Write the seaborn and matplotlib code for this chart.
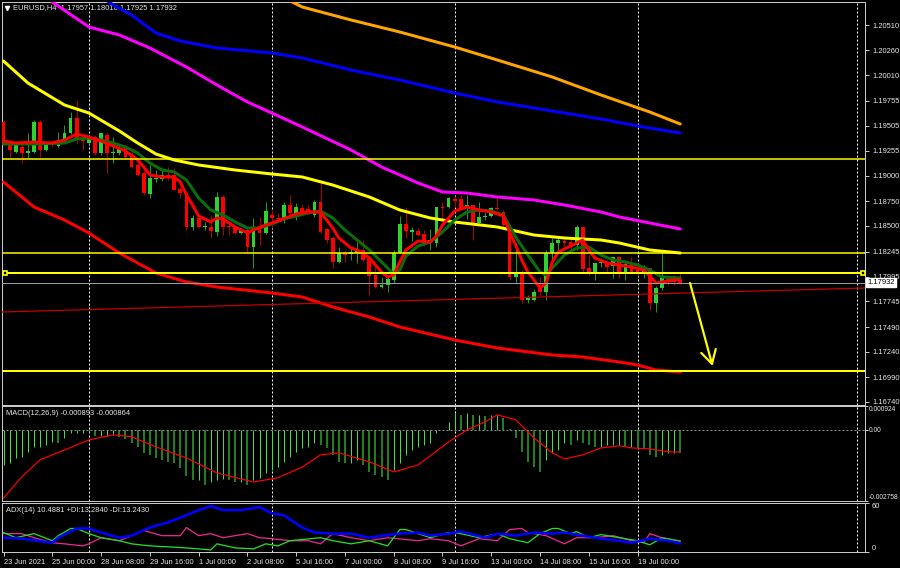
import numpy as np
import pandas as pd
import matplotlib
matplotlib.use("Agg")
import matplotlib.pyplot as plt
import seaborn as sns

# ---------------- data (EURUSD H4) ----------------
open_ = [1.1954, 1.1933, 1.1924, 1.1929, 1.1923, 1.1924, 1.1954, 1.1926, 1.1934, 1.1930,
         1.1936, 1.1943, 1.1958, 1.1937, 1.1933, 1.1939, 1.1923, 1.1941, 1.1923, 1.1923,
         1.1929, 1.1921, 1.1911, 1.1903, 1.1882, 1.1897, 1.1897, 1.1901, 1.1901, 1.1887,
         1.1883, 1.1849, 1.1858, 1.1849, 1.1849, 1.1844, 1.1879, 1.1850, 1.1849, 1.1843,
         1.1846, 1.1829, 1.1848, 1.1843, 1.1861, 1.1858, 1.1858, 1.1871, 1.1863, 1.1868,
         1.1867, 1.1861, 1.1874, 1.1847, 1.1838, 1.1814, 1.1823, 1.1822, 1.1823, 1.1826,
         1.1817, 1.1801, 1.1789, 1.1791, 1.1796, 1.1823, 1.1852, 1.1844, 1.1845, 1.1842,
         1.1834, 1.1833, 1.1869, 1.1869, 1.1877, 1.1877, 1.1869, 1.1871, 1.1853, 1.1859,
         1.1860, 1.1868, 1.1864, 1.1851, 1.1799, 1.1804, 1.1776, 1.1776, 1.1788, 1.1784,
         1.1823, 1.1833, 1.1835, 1.1834, 1.1831, 1.1849, 1.1808, 1.1802, 1.1813, 1.1813,
         1.1810, 1.1819, 1.1803, 1.1811, 1.1808, 1.1803, 1.1808, 1.1773, 1.1788, 1.1797,
         1.1798, 1.17957]
high_ = [1.1956, 1.1936, 1.1933, 1.1931, 1.1943, 1.1956, 1.1956, 1.1934, 1.1936, 1.1944,
         1.1951, 1.1964, 1.1976, 1.1939, 1.1938, 1.1941, 1.1943, 1.1943, 1.1939, 1.1931,
         1.1931, 1.1924, 1.1913, 1.1906, 1.1911, 1.1906, 1.1907, 1.1909, 1.1908, 1.1889,
         1.1885, 1.1861, 1.1861, 1.1854, 1.1861, 1.1884, 1.1881, 1.1854, 1.1851, 1.1848,
         1.1848, 1.1858, 1.1859, 1.1874, 1.1866, 1.1863, 1.1874, 1.1881, 1.1873, 1.1871,
         1.1871, 1.1876, 1.1895, 1.1848, 1.1840, 1.1829, 1.1826, 1.1828, 1.1834, 1.1836,
         1.1817, 1.1811, 1.1799, 1.1799, 1.1826, 1.1860, 1.1869, 1.1849, 1.1848, 1.1846,
         1.1847, 1.1869, 1.1874, 1.1879, 1.1880, 1.1881, 1.1881, 1.1871, 1.1874, 1.1864,
         1.1869, 1.1878, 1.1866, 1.1851, 1.1833, 1.1806, 1.1781, 1.1787, 1.1799, 1.1826,
         1.1838, 1.1839, 1.1839, 1.1837, 1.1851, 1.1849, 1.1821, 1.1813, 1.1818, 1.1816,
         1.1819, 1.1819, 1.1814, 1.1819, 1.1811, 1.1811, 1.1808, 1.1790, 1.1824, 1.1801,
         1.1801, 1.18018]
low_ = [1.1931, 1.1919, 1.1923, 1.1913, 1.1918, 1.1923, 1.1919, 1.1925, 1.1929, 1.1929,
        1.1935, 1.1942, 1.1933, 1.1926, 1.1932, 1.1921, 1.1921, 1.1903, 1.1913, 1.1921,
        1.1918, 1.1908, 1.1900, 1.1881, 1.1878, 1.1894, 1.1895, 1.1896, 1.1886, 1.1878,
        1.1846, 1.1846, 1.1848, 1.1846, 1.1838, 1.1840, 1.1841, 1.1841, 1.1842, 1.1842,
        1.1823, 1.1808, 1.1831, 1.1842, 1.1848, 1.1854, 1.1853, 1.1861, 1.1856, 1.1861,
        1.1862, 1.1859, 1.1843, 1.1833, 1.1808, 1.1813, 1.1814, 1.1816, 1.1813, 1.1814,
        1.1781, 1.1788, 1.1788, 1.1784, 1.1793, 1.1823, 1.1838, 1.1835, 1.1840, 1.1830,
        1.1826, 1.1829, 1.1856, 1.1868, 1.1869, 1.1866, 1.1857, 1.1836, 1.1853, 1.1856,
        1.1859, 1.1866, 1.1849, 1.1796, 1.1793, 1.1773, 1.1773, 1.1775, 1.1781, 1.1776,
        1.1814, 1.1826, 1.1829, 1.1826, 1.1826, 1.1804, 1.1801, 1.1796, 1.1809, 1.1803,
        1.1798, 1.1798, 1.1796, 1.1803, 1.1800, 1.1798, 1.1766, 1.1764, 1.1786, 1.1791,
        1.1791, 1.17925]
close_ = [1.1933, 1.1926, 1.1931, 1.1923, 1.1925, 1.1954, 1.1926, 1.1931, 1.1932, 1.1936,
          1.1943, 1.1958, 1.1938, 1.1935, 1.1937, 1.1923, 1.1943, 1.1923, 1.1924, 1.1927,
          1.1919, 1.1909, 1.1901, 1.1883, 1.1898, 1.1898, 1.1901, 1.1899, 1.1886, 1.1883,
          1.1849, 1.1858, 1.1849, 1.1850, 1.1845, 1.1879, 1.1849, 1.1849, 1.1843, 1.1846,
          1.1829, 1.1848, 1.1843, 1.1865, 1.1858, 1.1857, 1.1871, 1.1863, 1.1869, 1.1863,
          1.1863, 1.1874, 1.1844, 1.1836, 1.1814, 1.1823, 1.1821, 1.1824, 1.1826, 1.1816,
          1.1800, 1.1789, 1.1791, 1.1797, 1.1823, 1.1852, 1.1845, 1.1846, 1.1841, 1.1833,
          1.1836, 1.1869, 1.1868, 1.1878, 1.1875, 1.1868, 1.1871, 1.1853, 1.1859, 1.1860,
          1.1868, 1.1867, 1.1851, 1.1799, 1.1804, 1.1776, 1.1778, 1.1784, 1.1784, 1.1823,
          1.1833, 1.1836, 1.1833, 1.1831, 1.1849, 1.1807, 1.1803, 1.1813, 1.1814, 1.1809,
          1.1819, 1.1803, 1.1812, 1.1804, 1.1803, 1.1807, 1.1773, 1.1788, 1.1799, 1.1794,
          1.1794, 1.17932]

# moving averages, sampled at bar indices
fast_red_bars = [0, 2, 5, 8, 10, 12, 14, 16, 18, 20, 22, 23, 24, 26, 28, 29, 30, 31, 32, 34,
                 35, 36, 38, 40, 41, 43, 45, 48, 50, 52, 53, 54, 55, 57, 58, 60, 62, 63, 64, 65,
                 66, 68, 70, 71, 72, 74, 76, 78, 80, 82, 83, 84, 85, 86, 88, 89, 90, 91, 93, 95,
                 96, 97, 99, 101, 103, 105, 106, 107, 108, 110, 111]
fast_red = [1.1935, 1.1933, 1.1934, 1.1933, 1.1936, 1.1942, 1.1939, 1.1935, 1.1930, 1.1925,
            1.1916, 1.1909, 1.1901, 1.1899, 1.1899, 1.1894, 1.1881, 1.1871, 1.1860, 1.1854,
            1.1858, 1.1857, 1.1849, 1.1843, 1.1846, 1.1851, 1.1855, 1.1862, 1.1864, 1.1864,
            1.1856, 1.1848, 1.1838, 1.1828, 1.1826, 1.1818, 1.1804, 1.1799, 1.1801, 1.1814,
            1.1826, 1.1835, 1.1834, 1.1840, 1.1851, 1.1865, 1.1869, 1.1866, 1.1864, 1.1860,
            1.1844, 1.1831, 1.1816, 1.1804, 1.1788, 1.1793, 1.1814, 1.1824, 1.1830, 1.1836,
            1.1826, 1.1818, 1.1813, 1.1811, 1.1809, 1.1806, 1.1800, 1.1793, 1.1794, 1.1796,
            1.1796]
fast_green_bars = [0, 5, 10, 12, 14, 16, 18, 20, 22, 24, 26, 28, 30, 32, 34, 36, 38, 40, 42, 44,
                   46, 48, 50, 52, 54, 56, 58, 60, 62, 64, 65, 66, 68, 70, 72, 74, 76, 78, 80, 82,
                   84, 86, 88, 89, 90, 92, 94, 96, 98, 100, 102, 104, 106, 108, 111]
fast_green = [1.1932, 1.1932, 1.1933, 1.1937, 1.1938, 1.1936, 1.1933, 1.1929, 1.1923, 1.1913,
              1.1906, 1.1904, 1.1896, 1.1878, 1.1866, 1.1861, 1.1854, 1.1848, 1.1848, 1.1852,
              1.1857, 1.1860, 1.1863, 1.1865, 1.1858, 1.1846, 1.1836, 1.1826, 1.1814, 1.1802,
              1.1806, 1.1820, 1.1830, 1.1834, 1.1844, 1.1856, 1.1864, 1.1866, 1.1865, 1.1861,
              1.1839, 1.1821, 1.1804, 1.1801, 1.1808, 1.1821, 1.1828, 1.1829, 1.1821, 1.1816,
              1.1814, 1.1811, 1.1806, 1.1799, 1.1798]
yellow_ma_bars = [0, 4, 10, 14, 19, 22, 25, 28, 32, 38, 44, 49, 54, 60, 65, 70, 74, 81, 87, 92,
                  98, 101, 106, 111]
yellow_ma = [1.2015, 1.1993, 1.1971, 1.1963, 1.1945, 1.1933, 1.1922, 1.1916, 1.1911, 1.1906,
             1.1902, 1.1899, 1.1891, 1.1879, 1.1866, 1.1858, 1.1854, 1.1849, 1.1841, 1.1838,
             1.1836, 1.1833, 1.1826, 1.1823]
magenta_ma_bars = [0, 8, 14, 19, 24, 30, 35, 40, 44, 49, 57, 62, 68, 72, 76, 81, 87, 92, 98, 101,
                   106, 111]
magenta_ma = [1.2109, 1.2074, 1.2049, 1.2041, 1.2028, 1.2009, 1.1991, 1.1974, 1.1963, 1.1949,
              1.1926, 1.1909, 1.1893, 1.1884, 1.1883, 1.1879, 1.1876, 1.1871, 1.1864, 1.1859,
              1.1853, 1.1847]
blue_ma_bars = [12, 18, 21, 25, 29, 35, 44, 49, 57, 65, 74, 81, 89, 98, 104, 111]
blue_ma = [1.2096, 1.2071, 1.2061, 1.2043, 1.2035, 1.2028, 1.2023, 1.2018, 1.2006, 1.1996,
           1.1983, 1.1974, 1.1966, 1.1957, 1.1950, 1.1943]
orange_ma_bars = [40, 47, 49, 57, 65, 74, 81, 90, 98, 106, 111]
orange_ma = [1.2087, 1.2075, 1.2069, 1.2056, 1.2044, 1.2029, 1.2016, 1.1999, 1.1981, 1.1964,
             1.1952]
slow_red_bars = [0, 5, 10, 14, 19, 25, 30, 35, 44, 49, 54, 60, 65, 74, 81, 90, 95, 101, 104,
                 107, 111]
slow_red = [1.1894, 1.1869, 1.1856, 1.1843, 1.1823, 1.1803, 1.1794, 1.1789, 1.1783, 1.1779,
            1.1769, 1.1759, 1.1749, 1.1736, 1.1728, 1.1721, 1.1719, 1.1714, 1.1711, 1.1706,
            1.1704]

# drawn objects
thin_levels = [1.1917, 1.1823]
thick_levels = [1.1803, 1.1705]
bid_price = 1.17932
level_anchor_bars = [0.2, 141.0]
trend_bars = [-0.25, 141.3]
trend_prices = [1.1764, 1.1788]
arrow_from = (112.6, 1.1793)
arrow_to = (116.3, 1.1710)
grid_bars = [14, 44, 74, 104, 140]

# MACD(12,26,9)
macd_hist = [-0.00136, -0.00128, -0.00109, -0.00105, -0.00085, -0.00066, -0.00066, -0.00058, -0.00047, -0.00050,
             -0.00031, -0.00012, -0.00012, -0.00012, -0.00008, -0.00023, -0.00023, -0.00023, -0.00019, -0.00027,
             -0.00035, -0.00050, -0.00066, -0.00089, -0.00097, -0.00109, -0.00116, -0.00124, -0.00128, -0.00147,
             -0.00178, -0.00194, -0.00194, -0.00213, -0.00202, -0.00194, -0.00190, -0.00194, -0.00202, -0.00202,
             -0.00213, -0.00194, -0.00186, -0.00167, -0.00155, -0.00144, -0.00124, -0.00105, -0.00085, -0.00070,
             -0.00066, -0.00050, -0.00058, -0.00070, -0.00097, -0.00124, -0.00128, -0.00128, -0.00116, -0.00136,
             -0.00163, -0.00175, -0.00182, -0.00194, -0.00155, -0.00128, -0.00097, -0.00078, -0.00066, -0.00058,
             -0.00050, -0.00012, -0.00002, 0.00031, 0.00066, 0.00058, 0.00066, 0.00058, 0.00058, 0.00054,
             0.00058, 0.00058, 0.00047, 0.00002, -0.00031, -0.00085, -0.00124, -0.00144, -0.00163, -0.00116,
             -0.00089, -0.00078, -0.00050, -0.00058, -0.00039, -0.00050, -0.00058, -0.00066, -0.00066, -0.00058,
             -0.00058, -0.00058, -0.00066, -0.00066, -0.00070, -0.00074, -0.00097, -0.00105, -0.00097, -0.00089,
             -0.00089, -0.000893]
signal_bars = [0, 3, 6, 10, 14, 18, 21, 25, 30, 35, 41, 45, 49, 52, 55, 60, 64, 68, 73, 76,
               79, 81, 84, 87, 90, 92, 95, 98, 101, 103, 106, 109, 111]
signal = [-0.00264, -0.00182, -0.00116, -0.00078, -0.00039, -0.00019, -0.00027, -0.00066, -0.00109, -0.00167,
          -0.00202, -0.00186, -0.00144, -0.00097, -0.00089, -0.00124, -0.00163, -0.00136, -0.00047, 0.0,
          0.00031, 0.00058, 0.00039, -0.00031, -0.00089, -0.00113, -0.00097, -0.00070, -0.00062, -0.00070,
          -0.00074, -0.00085, -0.000864]

# ADX(14)
adx_bars = [0, 3, 8, 9, 12, 14, 16, 19, 21, 24, 27, 30, 32, 34, 36, 39, 42, 44, 46, 49,
            51, 54, 57, 60, 62, 65, 68, 70, 73, 75, 79, 81, 84, 87, 90, 92, 95, 98, 101, 103,
            106, 109, 111]
adx = [17.5, 16.3, 11.3, 17.5, 28.8, 28.8, 23.8, 17.5, 20.0, 30.0, 36.3, 45.0, 51.3, 56.3, 51.3,
       51.3, 55.0, 47.5, 45.0, 30.0, 23.8, 22.5, 22.5, 17.5, 20.0, 22.5, 23.8, 20.0, 22.5, 25.0,
       17.5, 22.5, 20.0, 23.8, 22.5, 23.8, 20.0, 16.3, 13.8, 11.3, 16.3, 13.8, 10.49]
plus_di_bars = [0, 2, 5, 8, 9, 11, 12, 14, 16, 19, 21, 24, 27, 30, 32, 34, 35, 38, 41, 43,
                45, 47, 52, 54, 57, 60, 63, 65, 66, 68, 70, 73, 75, 78, 81, 83, 86, 88, 90, 91,
                93, 94, 96, 98, 101, 104, 106, 108, 111]
plus_di = [23.8, 17.5, 22.5, 13.8, 20.0, 28.8, 28.8, 22.5, 17.5, 13.8, 10.0, 7.5, 6.3, 5.0, 3.8,
           2.5, 10.0, 5.0, 3.8, 10.0, 7.5, 13.8, 17.5, 13.8, 10.0, 13.8, 7.5, 27.5, 27.5, 22.5,
           17.5, 23.8, 22.5, 17.5, 22.5, 16.3, 11.3, 22.5, 28.8, 28.8, 22.5, 25.0, 17.5, 21.3, 17.5,
           13.8, 8.8, 17.5, 13.28]
minus_di_bars = [0, 3, 5, 8, 10, 13, 14, 16, 19, 23, 26, 29, 30, 32, 34, 36, 40, 42, 44, 47,
                 50, 52, 54, 57, 60, 63, 68, 70, 73, 75, 78, 81, 83, 85, 86, 89, 92, 94, 97, 100,
                 103, 105, 106, 108, 111]
minus_di = [22.5, 22.5, 17.5, 11.3, 10.0, 7.5, 10.0, 17.5, 13.8, 26.3, 20.0, 20.0, 30.0, 20.0, 22.5,
            17.5, 22.5, 17.5, 16.3, 13.8, 13.8, 10.0, 22.5, 17.5, 13.8, 17.5, 13.8, 16.3, 13.8, 7.5,
            16.3, 13.8, 27.5, 28.8, 23.8, 20.0, 10.0, 17.5, 17.5, 20.0, 13.8, 11.3, 22.5, 17.5, 13.24]

price_ticks = [1.20510, 1.20260, 1.20010, 1.19755, 1.19505, 1.19255, 1.19000, 1.18750,
               1.18500, 1.18245, 1.17995, 1.17745, 1.17490, 1.17240, 1.16990, 1.16740]
time_tick_bars = [0, 8, 16, 24, 32, 40, 48, 56, 64, 72, 80, 88, 96, 104]
time_tick_labels = ["23 Jun 2021", "25 Jun 00:00", "28 Jun 08:00", "29 Jun 16:00", "1 Jul 00:00",
                    "2 Jul 08:00", "5 Jul 16:00", "7 Jul 00:00", "8 Jul 08:00", "9 Jul 16:00",
                    "13 Jul 00:00", "14 Jul 08:00", "15 Jul 16:00", "19 Jul 00:00"]

# ---------------- drawing ----------------
PX = 0.72  # one pixel in points at 100 dpi
FS = 5.4
TXT = "#e6e6e6"
FRAME = "#c8c8c8"

sns.set_theme(style="dark", rc={"axes.facecolor": "black", "figure.facecolor": "black",
                                "savefig.facecolor": "black", "axes.edgecolor": FRAME,
                                "axes.grid": False})
plt.rcParams["font.family"] = ["Liberation Sans", "DejaVu Sans"]

fig = plt.figure(figsize=(9, 5.68), dpi=100)
L, W = 2 / 900, 863 / 900
ax = fig.add_axes([L, 1 - 405 / 568, W, 403 / 568])
axm = fig.add_axes([L, 1 - 501 / 568, W, 95 / 568], sharex=ax)
axa = fig.add_axes([L, 1 - 552 / 568, W, 49 / 568], sharex=ax)

df = pd.DataFrame({"bar": np.arange(len(close_)), "open": open_, "high": high_,
                   "low": low_, "close": close_})
up = df["close"] >= df["open"]

# candles
ax.vlines(df["bar"], df["low"], df["high"], colors=np.where(up, "#1f9a1f", "#b00000"),
          lw=1 * PX, zorder=2)
body = (df["close"] - df["open"]).abs().clip(lower=0.00009)
ax.bar(df["bar"], body, bottom=df[["open", "close"]].min(axis=1), width=0.62,
       color=np.where(up, "#2fd02f", "#ff0000"), linewidth=0, zorder=3)

# moving averages
ma_specs = [(slow_red_bars, slow_red, "#ff0000", 3), (orange_ma_bars, orange_ma, "#ffa500", 3),
            (blue_ma_bars, blue_ma, "#0000ff", 3), (magenta_ma_bars, magenta_ma, "#ff00ff", 3),
            (yellow_ma_bars, yellow_ma, "#ffff00", 3), (fast_green_bars, fast_green, "#0b6e0b", 3),
            (fast_red_bars, fast_red, "#ff0000", 3)]
for xs, ys, col, w in ma_specs:
    sns.lineplot(x=xs, y=ys, ax=ax, color=col, linewidth=w * PX, legend=False, zorder=4)

# horizontal levels, bid line, trend line, arrow
for lv in thin_levels:
    ax.axhline(lv, color="#ffff00", lw=1.5 * PX, zorder=5)
for lv in thick_levels:
    ax.axhline(lv, color="#ffff00", lw=2 * PX, zorder=5)
ax.axhline(bid_price, color="#9a9aa0", lw=1 * PX, zorder=5)
ax.plot(trend_bars, trend_prices, color="#c80000", lw=1.2 * PX, zorder=5)
ax.plot(level_anchor_bars, [thick_levels[0]] * 2, ls="none", marker="s", ms=3.5,
        mfc="black", mec="#ffff00", mew=1.2, zorder=6, clip_on=False)
ax.annotate("", xy=arrow_to, xytext=arrow_from,
            arrowprops=dict(arrowstyle="->,head_length=0.8,head_width=0.45", color="#ffff00",
                            lw=2.2 * PX, shrinkA=0, shrinkB=0), zorder=6)

ax.set_xlim(-0.25, 141.3)
ax.set_ylim(1.2076 - 405 / 10000, 1.2076 - 2 / 10000)
ax.yaxis.tick_right()
ax.set_yticks(price_ticks)
ax.set_yticklabels([f"{p:.5f}" for p in price_ticks])
ax.text(1.003, bid_price, f"{bid_price:.5f}", transform=ax.get_yaxis_transform(),
        fontsize=FS, color="black", va="center", ha="left", zorder=10,
        bbox=dict(facecolor="white", edgecolor="white", pad=0.8), clip_on=False)
ax.text(0.0127, 0.985, "EURUSD,H4  1.17957 1.18018 1.17925 1.17932", transform=ax.transAxes,
        fontsize=FS, color=TXT, va="center", ha="left")
ax.plot([0.0058], [0.985], transform=ax.transAxes, marker="v", ms=3, color="white", ls="none")

# MACD panel
prev = [macd_hist[0]] + macd_hist[:-1]
rising = np.array([v >= p for v, p in zip(macd_hist, prev)])
mx = np.arange(len(macd_hist))
mh = np.array(macd_hist)
axm.vlines(mx[rising], 0, mh[rising], colors="#3fe03f", lw=1 * PX)
axm.vlines(mx[~rising], 0, mh[~rising], colors="#1f7f1f", lw=2 * PX)
axm.axhline(0, color="#8a8a8a", lw=1 * PX, ls=(0, (2, 2)))
sns.lineplot(x=signal_bars, y=signal, ax=axm, color="#ff0000", linewidth=1.2 * PX, legend=False)
axm.set_ylim(-0.002758, 0.000924)
axm.yaxis.tick_right()
axm.set_yticks([-0.002758, 0.0, 0.000924])
axm.set_yticklabels(["-0.002758", "0.00", "0.000924"])
axm.text(0.0046, 0.926, "MACD(12,26,9) -0.000893 -0.000864", transform=axm.transAxes,
         fontsize=FS, color=TXT, va="center", ha="left")

# ADX panel
sns.lineplot(x=minus_di_bars, y=minus_di, ax=axa, color="#e8288c", linewidth=1.3 * PX, legend=False)
sns.lineplot(x=plus_di_bars, y=plus_di, ax=axa, color="#22dd22", linewidth=1.3 * PX, legend=False)
sns.lineplot(x=adx_bars, y=adx, ax=axa, color="#0000ff", linewidth=2.6 * PX, legend=False)
axa.set_ylim(0, 60)
axa.yaxis.tick_right()
axa.set_yticks([0, 60])
axa.set_yticklabels(["0", "60"])
axa.text(0.0046, 0.857, "ADX(14) 10.4881 +DI:13.2840 -DI:13.2430", transform=axa.transAxes,
         fontsize=FS, color=TXT, va="center", ha="left")
axa.set_xticks(time_tick_bars)
axa.set_xticklabels(time_tick_labels, ha="left")

# common styling
for a in (ax, axm, axa):
    for v in grid_bars:
        a.axvline(v, color="white", lw=1 * PX, ls=(0, (2, 2)), zorder=1)
    for s in a.spines.values():
        s.set_color(FRAME)
        s.set_linewidth(1 * PX)
    a.set_xlabel("")
    a.set_ylabel("")
    a.grid(False)
    a.tick_params(axis="y", colors=FRAME, labelcolor=TXT, labelsize=FS, length=3,
                  width=1 * PX, pad=2, left=False, right=True)
    a.tick_params(axis="x", colors=FRAME, labelcolor=TXT, labelsize=FS, length=3,
                  width=1 * PX, pad=2, bottom=(a is axa), labelbottom=(a is axa))

# MACD scale labels are longer: tighter spacing so they fit the right margin
axm.tick_params(axis="y", labelsize=4.8, length=2, pad=1)

for a in (axm, axa):
    labs = a.get_yticklabels()
    labs[0].set_va("bottom")
    labs[-1].set_va("top")

fig.savefig("out.png", dpi=100, facecolor="black")
